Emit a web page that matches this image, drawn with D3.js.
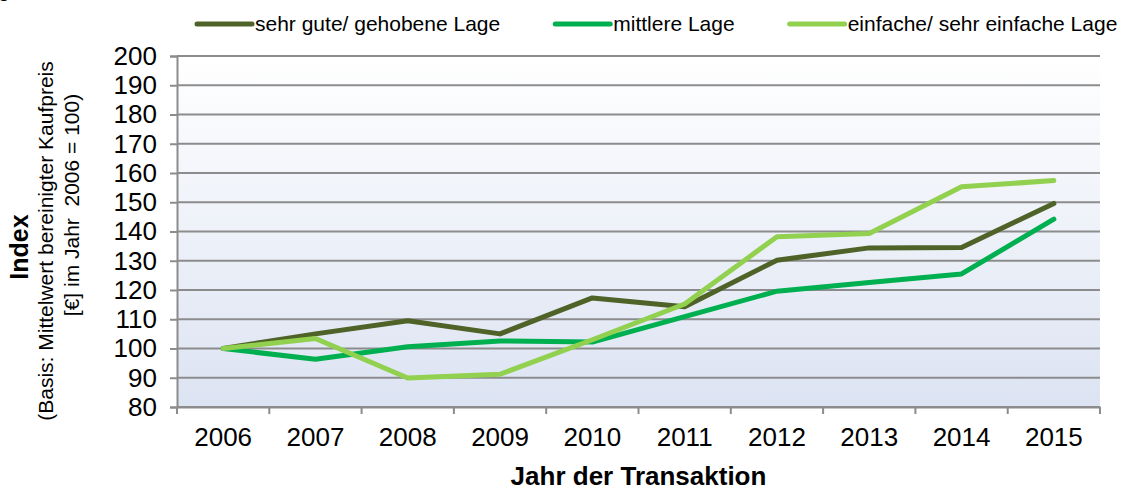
<!DOCTYPE html>
<html>
<head>
<meta charset="utf-8">
<script src="https://cdn.jsdelivr.net/npm/d3@7"></script>
<style>
  body { margin: 0; background: #fff; }
  svg { display: block; font-family: 'Liberation Sans', Arial, sans-serif; }
</style>
</head>
<body>
<div id="chart"></div>
<script>
const years = ['2006', '2007', '2008', '2009', '2010', '2011', '2012', '2013', '2014', '2015']

const seriesNames = ['sehr gute/ gehobene Lage', 'mittlere Lage', 'einfache/ sehr einfache Lage']

const sehrGute = [100, 105, 109.5, 105, 117.3, 114.3, 130.2, 134.4, 134.5, 149.6]
const mittlere = [100, 96.3, 100.6, 102.6, 102.2, 110.9, 119.6, 122.6, 125.5, 144.2]
const einfache = [100, 103.4, 89.9, 91.2, 103, 115.2, 138.2, 139.3, 155.3, 157.4]

const yTicks = [80, 90, 100, 110, 120, 130, 140, 150, 160, 170, 180, 190, 200]

const colors = ['#4f6228', '#00b050', '#92d050']

let width = 1128
let height = 488
let margin = { top: 56, right: 28, bottom: 81, left: 177 }
let innerWidth = width - margin.left - margin.right
let innerHeight = height - margin.top - margin.bottom

let series = [sehrGute, mittlere, einfache].map((vals, i) => ({
  name: seriesNames[i],
  color: colors[i],
  values: vals.map((v, j) => ({ year: years[j], value: v }))
}))

let svg = d3.select('#chart').append('svg')
  .attr('width', width)
  .attr('height', height)

// background gradient of the plot area
let grad = svg.append('defs').append('linearGradient')
  .attr('id', 'bg')
  .attr('x1', 0).attr('y1', 0).attr('x2', 0).attr('y2', 1)
grad.append('stop').attr('offset', '0%').attr('stop-color', '#ffffff')
grad.append('stop').attr('offset', '100%').attr('stop-color', '#dce3f2')

// cropped glyph in the top left corner
svg.append('text')
  .attr('x', -2).attr('y', -3)
  .style('font-size', '21px')
  .text('g')

let g = svg.append('g')
  .attr('transform', 'translate(' + margin.left + ',' + margin.top + ')')

let xScale = d3.scaleBand().domain(years).range([0, innerWidth])
let yScale = d3.scaleLinear().domain([80, 200]).range([innerHeight, 0])

g.append('rect')
  .attr('width', innerWidth)
  .attr('height', innerHeight)
  .attr('fill', 'url(#bg)')

// horizontal grid
g.selectAll('.grid')
  .data(yTicks)
  .enter().append('line')
  .attr('class', 'grid')
  .attr('x1', 0).attr('x2', innerWidth)
  .attr('y1', d => yScale(d)).attr('y2', d => yScale(d))
  .attr('stroke', '#8c8c8c')
  .attr('stroke-width', 2)

// y axis
let yAxis = g.append('g')
  .call(d3.axisLeft(yScale).tickValues(yTicks).tickSize(7).tickPadding(13))
yAxis.select('.domain').attr('stroke', '#8c8c8c').attr('stroke-width', 2)
yAxis.selectAll('.tick line').attr('stroke', '#8c8c8c').attr('stroke-width', 2)
yAxis.selectAll('.tick text')
  .style('font-size', '26px')
  .style('font-family', "'Liberation Sans', Arial, sans-serif")
  .attr('fill', '#000')

// x axis, ticks on the band boundaries
let xAxis = g.append('g')
  .attr('transform', 'translate(0,' + innerHeight + ')')
  .call(d3.axisBottom(xScale).tickSize(0).tickPadding(21))
xAxis.select('.domain').attr('stroke', '#8c8c8c').attr('stroke-width', 2)
xAxis.selectAll('.tick text')
  .style('font-size', '26px')
  .style('font-family', "'Liberation Sans', Arial, sans-serif")
  .attr('fill', '#000')

xAxis.selectAll('.band-tick')
  .data(years.concat(['end']))
  .enter().append('line')
  .attr('class', 'band-tick')
  .attr('x1', (d, i) => i * xScale.step())
  .attr('x2', (d, i) => i * xScale.step())
  .attr('y1', 0).attr('y2', 7)
  .attr('stroke', '#8c8c8c')
  .attr('stroke-width', 2)

// lines
let line = d3.line()
  .x(d => xScale(d.year) + xScale.bandwidth() / 2)
  .y(d => yScale(d.value))

g.selectAll('.series')
  .data(series)
  .enter().append('path')
  .attr('class', 'series')
  .attr('d', d => line(d.values))
  .attr('fill', 'none')
  .attr('stroke', d => d.color)
  .attr('stroke-width', 5)
  .attr('stroke-linejoin', 'round')
  .attr('stroke-linecap', 'round')

// axis titles
svg.append('text')
  .attr('x', margin.left + innerWidth / 2)
  .attr('y', 485)
  .attr('text-anchor', 'middle')
  .style('font-size', '26px')
  .style('font-weight', 'bold')
  .text('Jahr der Transaktion')

svg.append('text')
  .attr('transform', 'translate(28,247) rotate(-90)')
  .attr('text-anchor', 'middle')
  .style('font-size', '25px')
  .style('font-weight', 'bold')
  .text('Index')

svg.append('text')
  .attr('transform', 'translate(53,241) rotate(-90)')
  .attr('text-anchor', 'middle')
  .style('font-size', '21px')
  .text('(Basis: Mittelwert bereinigter Kaufpreis')

svg.append('text')
  .attr('transform', 'translate(79,205) rotate(-90)')
  .attr('text-anchor', 'middle')
  .style('font-size', '21px')
  .style('white-space', 'pre')
  .text('[€] im Jahr  2006 = 100)')

// legend
let legend = svg.append('g').attr('class', 'legend')
let lx = 197
series.forEach(s => {
  legend.append('line')
    .attr('x1', lx).attr('x2', lx + 55)
    .attr('y1', 24).attr('y2', 24)
    .attr('stroke', s.color)
    .attr('stroke-width', 5)
    .attr('stroke-linecap', 'round')
  let t = legend.append('text')
    .attr('x', lx + 58)
    .attr('y', 31)
    .style('font-size', '21px')
    .text(s.name)
  lx = lx + 58 + t.node().getComputedTextLength() + 55
})
</script>
</body>
</html>
